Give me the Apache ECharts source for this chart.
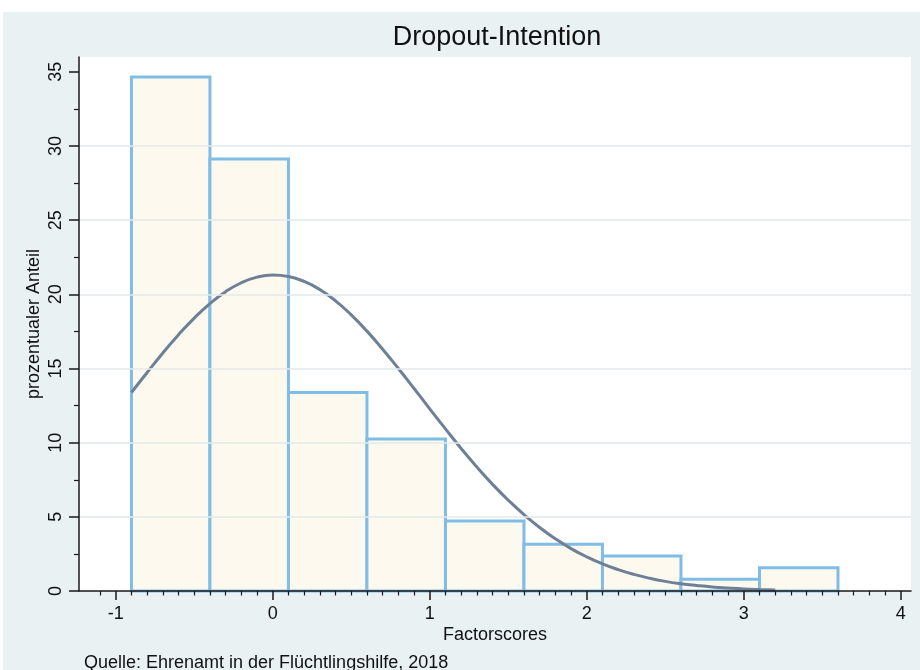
<!DOCTYPE html>
<html>
<head>
<meta charset="utf-8">
<script src="https://cdn.jsdelivr.net/npm/echarts@6/dist/echarts.min.js"></script>
<style>
html,body{margin:0;padding:0;background:#ffffff;}
#chart{width:920px;height:670px;}
</style>
</head>
<body>
<div id="chart"></div>
<script>
// Histogram bins (Factorscores), bin width 0.5
const binStart = [-0.9, -0.4, 0.1, 0.6, 1.1, 1.6, 2.1, 2.6, 3.1];
const binEnd   = [-0.4, 0.1, 0.6, 1.1, 1.6, 2.1, 2.6, 3.1, 3.6];
const percent  = [34.65, 29.13, 13.39, 10.24, 4.72, 3.15, 2.36, 0.79, 1.57];

// Normal density overlay
const curveX = [-0.9,-0.8,-0.7,-0.6,-0.5,-0.4,-0.3,-0.2,-0.1,0.0,0.1,0.2,0.3,0.4,0.5,0.6,0.7,0.8,0.9,1.0,1.1,1.2,1.3,1.4,1.5,1.6,1.7,1.8,1.9,2.0,2.1,2.2,2.3,2.4,2.5,2.6,2.7,2.8,2.9,3.0,3.1,3.2];
const curveY = [13.38,14.73,16.05,17.28,18.40,19.38,20.18,20.78,21.16,21.30,21.20,20.87,20.32,19.56,18.61,17.52,16.30,15.00,13.65,12.28,10.93,9.61,8.36,7.19,6.12,5.15,4.28,3.52,2.86,2.30,1.83,1.44,1.12,0.86,0.65,0.49,0.37,0.27,0.20,0.14,0.10,0.07];

// Tick values and labels
const xMajorTicks = [-1, 0, 1, 2, 3, 4];
const xMinorTicks = [-1.1,-0.9,-0.8,-0.7,-0.6,-0.5,-0.4,-0.3,-0.2,-0.1,0.1,0.2,0.3,0.4,0.5,0.6,0.7,0.8,0.9,1.1,1.2,1.3,1.4,1.5,1.6,1.7,1.8,1.9,2.1,2.2,2.3,2.4,2.5,2.6,2.7,2.8,2.9,3.1,3.2,3.3,3.4,3.5,3.6,3.7,3.8,3.9];
const yMajorTicks = [0, 5, 10, 15, 20, 25, 30, 35];
const yMinorTicks = [2.5, 7.5, 12.5, 17.5, 22.5, 27.5, 32.5];

const titleText = 'Dropout-Intention';
const xName = 'Factorscores';
const yName = 'prozentualer Anteil';
const noteText = 'Quelle: Ehrenamt in der Flüchtlingshilfe, 2018';

const FONT = '"Liberation Sans", Arial, sans-serif';
const X_MIN = -1.234, X_MAX = 4.065, Y_MIN = 0, Y_MAX = 36;

const chart = echarts.init(document.getElementById('chart'), null, {renderer: 'canvas'});

const histData = binStart.map((s, i) => [s, binEnd[i], percent[i]]);
const curveData = curveX.map((x, i) => [x, curveY[i]]);

const axisLineStyle = {color: '#1a1a1a', width: 1.5};

const option = {
  animation: false,
  backgroundColor: '#ffffff',
  graphic: [
    {type: 'rect', z: -10, silent: true, shape: {x: 3, y: 12, width: 917, height: 658}, style: {fill: '#eaf1f3'}},
    {type: 'rect', z: -9, silent: true, shape: {x: 79, y: 57, width: 832, height: 534}, style: {fill: '#ffffff'}},
    {type: 'text', x: 497, y: 38, style: {text: titleText, font: '27px ' + FONT, fill: '#111111', align: 'center', verticalAlign: 'middle'}},
    {type: 'text', x: 84, y: 663, style: {text: noteText, font: '18px ' + FONT, fill: '#111111', align: 'left', verticalAlign: 'middle'}}
  ],
  grid: {left: 79, top: 57, width: 832, height: 534, containLabel: false},
  xAxis: [
    {
      type: 'value', min: X_MIN, max: X_MAX, gridIndex: 0, position: 'bottom', z: 5,
      name: xName, nameLocation: 'middle', nameGap: 35, nameMoveOverlap: false,
      nameTextStyle: {fontFamily: FONT, fontSize: 18, color: '#111111'},
      axisLine: {show: true, onZero: false, lineStyle: axisLineStyle},
      axisTick: {show: true, length: 9, customValues: xMajorTicks, lineStyle: {color: '#1a1a1a', width: 1.5}},
      axisLabel: {show: true, customValues: xMajorTicks, margin: 14, fontFamily: FONT, fontSize: 18, color: '#111111'},
      splitLine: {show: false}
    },
    {
      type: 'value', min: X_MIN, max: X_MAX, gridIndex: 0, position: 'bottom', z: 5,
      axisLine: {show: false, onZero: false},
      axisTick: {show: true, length: 4.5, customValues: xMinorTicks, lineStyle: {color: '#1a1a1a', width: 1.2}},
      axisLabel: {show: false},
      splitLine: {show: false}
    }
  ],
  yAxis: [
    {
      type: 'value', min: Y_MIN, max: Y_MAX, interval: 5, gridIndex: 0, position: 'left', z: 5,
      name: yName, nameLocation: 'middle', nameGap: 36, nameRotate: 90, nameMoveOverlap: false,
      nameTextStyle: {fontFamily: FONT, fontSize: 18, color: '#111111'},
      axisLine: {show: true, onZero: false, lineStyle: axisLineStyle},
      axisTick: {show: true, length: 10, customValues: yMajorTicks, lineStyle: {color: '#1a1a1a', width: 1.5}},
      axisLabel: {show: true, customValues: yMajorTicks, rotate: 90, margin: 14, fontFamily: FONT, fontSize: 18, color: '#111111'},
      splitLine: {show: true, showMinLine: false, showMaxLine: false, lineStyle: {color: '#e2eaed', width: 1.5}}
    },
    {
      type: 'value', min: Y_MIN, max: Y_MAX, gridIndex: 0, position: 'left', z: 5,
      axisLine: {show: false, onZero: false},
      axisTick: {show: true, length: 5, customValues: yMinorTicks, lineStyle: {color: '#1a1a1a', width: 1.2}},
      axisLabel: {show: false},
      splitLine: {show: false}
    }
  ],
  series: [
    {
      type: 'custom',
      xAxisIndex: 0, yAxisIndex: 0,
      z: 2,
      data: histData,
      encode: {x: [0, 1], y: 2},
      renderItem: function (params, api) {
        const p0 = api.coord([api.value(0), api.value(2)]);
        const p1 = api.coord([api.value(1), 0]);
        return {
          type: 'rect',
          shape: {x: p0[0], y: p0[1], width: p1[0] - p0[0], height: p1[1] - p0[1]},
          style: {fill: '#fdf9ef', stroke: '#80bde6', lineWidth: 3}
        };
      }
    },
    {
      type: 'line',
      xAxisIndex: 0, yAxisIndex: 0,
      z: 3,
      data: curveData,
      smooth: true,
      showSymbol: false,
      symbol: 'none',
      lineStyle: {color: '#6e8096', width: 3}
    }
  ]
};
chart.setOption(option);
</script>
</body>
</html>
